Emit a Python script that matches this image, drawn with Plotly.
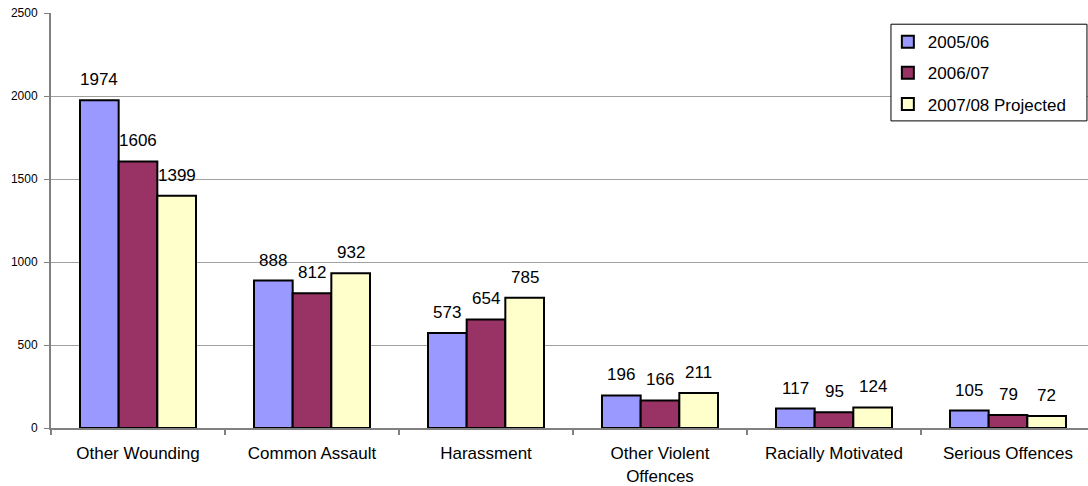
import plotly.graph_objects as go

categories = ["Other Wounding", "Common Assault", "Harassment",
              "Other Violent<br>Offences", "Racially Motivated", "Serious Offences"]
series_names = ["2005/06", "2006/07", "2007/08 Projected"]
values_2005_06 = [1974, 888, 573, 196, 117, 105]
values_2006_07 = [1606, 812, 654, 166, 95, 79]
values_2007_08 = [1399, 932, 785, 211, 124, 72]
colors = ["#9999FF", "#993366", "#FFFFCC"]
y_ticks = [0, 500, 1000, 1500, 2000, 2500]

FONT = "Liberation Sans, Arial, sans-serif"
BARGAP = 1 / 3
all_series = [values_2005_06, values_2006_07, values_2007_08]

fig = go.Figure()
for i, (name, vals) in enumerate(zip(series_names, all_series)):
    fig.add_trace(go.Bar(
        x=categories, y=vals, name=name, legendgroup=name,
        marker=dict(color=colors[i], line=dict(color="#000000", width=2)),
    ))

# value labels above each bar, lifted a little clear of the bar top
bar_w = (1 - BARGAP) / len(all_series)
annotations = []
for i, vals in enumerate(all_series):
    offset = (i - (len(all_series) - 1) / 2) * bar_w
    for j, v in enumerate(vals):
        annotations.append(dict(
            x=j + offset, y=v, xref="x", yref="y",
            text=str(v), showarrow=False,
            xanchor="center", yanchor="bottom", yshift=9,
            font=dict(family=FONT, size=17, color="#000000"),
        ))

# framed box behind the legend (wider than the legend's own auto-sized border)
legend_box = dict(
    type="rect", xref="paper", yref="paper",
    x0=0.810, x1=0.999, y0=0.740, y1=0.973,
    line=dict(color="#000000", width=1), fillcolor="#FFFFFF", layer="above",
)

fig.update_layout(
    width=1088, height=486,
    margin=dict(l=51, r=0, t=13, b=58),
    paper_bgcolor="#FFFFFF", plot_bgcolor="#FFFFFF",
    barmode="group", bargap=BARGAP, bargroupgap=0,
    font=dict(family=FONT, color="#000000"),
    annotations=annotations,
    shapes=[legend_box],
    legend=dict(
        x=0.807, xanchor="left", y=0.973, yanchor="top",
        bgcolor="rgba(0,0,0,0)", borderwidth=0,
        font=dict(family=FONT, size=17, color="#000000"),
        tracegroupgap=6,
    ),
    xaxis=dict(
        range=[-0.5, 5.5 - 7 / 174],
        showline=True, linecolor="#808080", linewidth=2,
        ticks="outside", ticklen=5, tickcolor="#808080", tickwidth=2,
        tickson="boundaries", showgrid=False,
        tickfont=dict(family=FONT, size=17, color="#000000"),
        ticklabelstandoff=9,
    ),
    yaxis=dict(
        range=[0, 2500], tickvals=y_ticks,
        showline=True, linecolor="#808080", linewidth=2,
        ticks="outside", ticklen=5, tickcolor="#808080", tickwidth=1,
        showgrid=True, gridcolor="#A0A0A0", gridwidth=1,
        zeroline=False,
        tickfont=dict(family=FONT, size=12, color="#000000"),
        ticklabelstandoff=4,
    ),
)

fig.write_html("out.html")
